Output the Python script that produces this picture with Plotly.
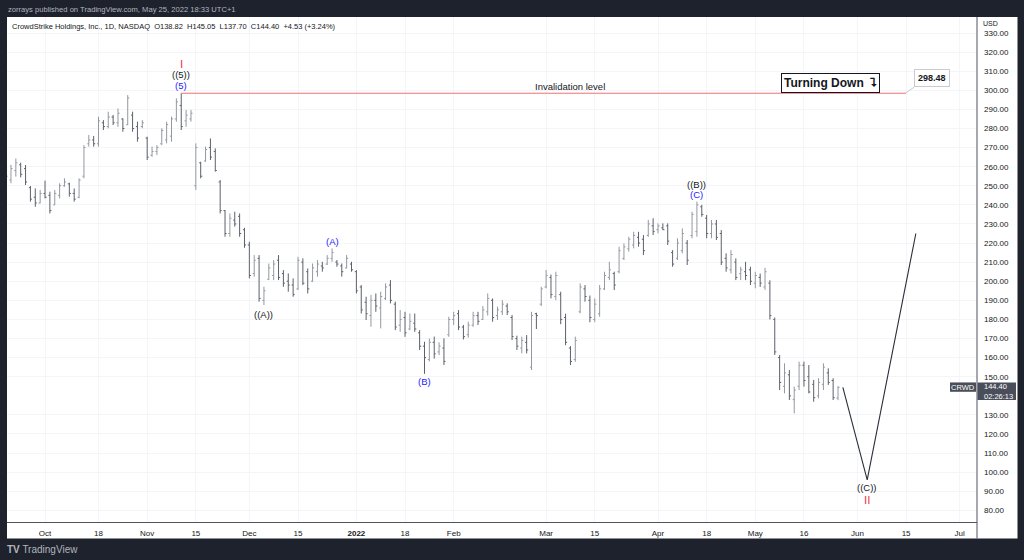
import plotly.graph_objects as go
import pandas as pd

# ---------------- data ----------------
HOLIDAYS = ["2021-11-25", "2021-12-24", "2022-01-17", "2022-02-21", "2022-04-15",
            "2022-05-30", "2022-06-20", "2022-07-04"]
FIRST_BAR = "2021-09-21"
LAST_CAL = "2022-07-29"

opens = [254.5, 253, 258, 261, 259, 249, 244, 241, 246, 245, 240, 245, 250, 251, 246, 244,
         255, 272, 274, 272, 283, 281, 286, 283, 285, 282, 287, 281, 281, 275, 266, 268,
         272, 274, 276, 285, 292, 284, 285, 250, 262, 263, 270, 268, 252, 237, 225, 232,
         234, 227, 219, 204, 212, 190, 201, 203, 211, 204, 200, 198, 196, 210, 205, 200,
         205, 208, 209, 212, 210, 208, 207, 209, 205, 197, 189, 182, 190, 186, 191, 198,
         188, 177, 181, 175, 178, 173, 166, 159, 168, 163, 165, 172, 180, 183, 176, 172,
         177, 182, 180, 184, 190, 182, 184, 187, 181, 170, 165, 168, 155, 183, 188, 197,
         202, 192, 193, 181, 165, 159, 184, 196, 190, 180, 183, 196, 202, 204, 205, 212,
         217, 219, 223, 222, 224, 229, 227, 228, 229, 215, 212, 216, 220, 224, 226, 239,
         233, 225, 230, 225, 212, 206, 210, 204, 205, 206, 199, 202, 197, 199, 180, 160,
         145, 151, 138, 145, 156, 150, 146, 140, 146, 152, 148, 138.82]
highs = [256, 261, 264.3, 262.1, 260.9, 249.9, 248.6, 247.8, 252.7, 246.9, 247.8, 251.3, 253.9,
         251.6, 248.6, 253.9, 271.3, 276.6, 276.1, 286.2, 284.4, 288.8, 287.1, 290.5, 285.3,
         297.5, 288.8, 283.6, 284.4, 275.7, 270.5, 271.3, 280.1, 283.6, 286.2, 295.8, 298.48,
         289.7, 289.7, 272.2, 262.6, 270.5, 274.8, 269.6, 253.0, 237.3, 235.5, 236.4, 235.5,
         228, 220.7, 213.7, 213.7, 197.1, 209.3, 211.1, 213.7, 205.8, 204.1, 201.5, 212.8,
         212, 206.7, 209.3, 211.1, 210.2, 213.7, 217.2, 211.1, 209.3, 213.7, 210.2, 205.8,
         198, 191.9, 192.8, 193.6, 194.5, 198.9, 200.6, 189.3, 184.9, 184, 183.1, 183.1,
         174.4, 168.3, 170, 171, 168, 170.1, 181.4, 184.0, 184.9, 177.1, 178.8, 184, 184.0,
         187, 193.6, 191.0, 186.7, 190.1, 188.4, 182.3, 171.5, 171, 171.8, 184.0, 183.5,
         197.1, 205.9, 203.5, 205, 194.5, 183, 166, 171, 198.9, 198, 192.5, 191, 198, 205,
         210.2, 205, 218.1, 219.8, 223.3, 225.9, 225.9, 224.2, 232.1, 233, 230.3, 230.3,
         230.3, 216.3, 222.5, 227.7, 221.6, 236.4, 241.7, 240, 234.7, 232.1, 232.1, 226.8,
         214.6, 216.3, 212, 207.6, 210.2, 207.6, 205, 204, 207, 200.5, 181, 161.4, 157,
         153.5, 144.8, 157.9, 157.9, 156.1, 148.3, 149.2, 157, 154.4, 149.2, 145.05]
lows = [253, 251.3, 254.8, 254.4, 250.4, 241.7, 239.0, 240.8, 243.4, 235.5, 239.9, 243.4, 249.5,
        244.3, 241.7, 243.4, 253.9, 270.5, 270.5, 270.5, 279.2, 280.1, 281.8, 280.9, 278.3,
        281.8, 278.3, 273.1, 280.1, 263.5, 265.2, 266.1, 271.3, 272.2, 273.1, 283.6, 279.2,
        280.9, 283.6, 247.8, 253.9, 262.6, 263.5, 257.4, 235.5, 223.3, 223.3, 228.6, 223.3,
        217.5, 201.5, 202.4, 189.3, 187.5, 200.6, 200.6, 200.6, 197.1, 194.5, 191.9, 195.4,
        198, 193.6, 199.7, 202.4, 205, 208.5, 210.2, 207.6, 202.4, 206.7, 205, 193.6,
        183.1, 179.7, 176.2, 184, 175.3, 190.1, 188.4, 174.4, 173.5, 170.9, 174.4, 173.5,
        164, 151.5, 158, 159.5, 161.3, 156.1, 170.9, 177.1, 174.4, 169.5, 170.5, 176.2, 177.1,
        179.7, 182, 178.8, 179.7, 182.3, 182.3, 169.2, 164, 162.2, 162.2, 153.5, 175,
        187, 196.3, 191, 190.1, 177.5, 166.5, 156.1, 157.8, 183.2, 189.3, 178.5, 178.5, 181.4,
        195.4, 200.6, 195.4, 204.1, 211.1, 215.5, 217.2, 218.1, 213.7, 223.3, 224.2, 225.1,
        226.8, 219, 207.6, 211.1, 214.6, 208.5, 222.5, 223.3, 233.8, 222.5, 222.5, 221.6,
        208.5, 205, 204.1, 200.6, 200.6, 200.6, 198, 196.3, 197, 195.5, 180, 161.4, 143,
        141.3, 137.8, 130.8, 143, 144.8, 141.3, 136.9, 138.7, 143, 145.7, 137.8, 137.70]
closes = [255, 259, 262, 256, 252, 243, 241, 246, 244, 237, 246, 250, 252, 246, 243, 253,
          270, 274, 272, 284, 281, 286, 283, 288, 280, 296, 280, 275, 283, 265, 268, 270,
          279, 282, 285, 294, 281, 287, 288, 270, 255, 269, 265, 258, 237, 225, 233, 230,
          225, 219, 203, 211, 191, 195, 207, 209, 202, 199, 198, 193, 211, 199, 196, 207,
          209, 207, 212, 215, 209, 205, 212, 206, 195, 185, 183, 190, 187, 192, 197, 190,
          176, 180, 173, 179, 175, 166, 160, 168, 162, 166, 158, 180, 182, 176, 171, 177,
          182, 179, 185, 191, 181, 185, 188, 184, 171, 166, 169, 164, 182, 182, 196, 203,
          193, 203, 180, 168, 158, 169, 197, 192, 181, 188, 196, 203, 206, 198, 216, 218,
          222, 224, 220, 216, 230, 226, 229, 227, 221, 209, 220, 225, 211, 235, 240, 235,
          225, 230, 223, 210, 207, 214, 202, 206, 203, 200, 203, 199, 205, 182, 163, 147,
          152, 140, 143, 156, 148, 142, 139, 147, 155, 147, 139, 144.40]

tick_dates = ["2021-10-01", "2021-10-18", "2021-11-01", "2021-11-15", "2021-12-01",
              "2021-12-15", "2022-01-03", "2022-01-18", "2022-02-01", "2022-03-01",
              "2022-03-15", "2022-04-01", "2022-04-18", "2022-05-02", "2022-05-16",
              "2022-06-01", "2022-06-15", "2022-07-01"]
tick_labels = ["Oct", "18", "Nov", "15", "Dec", "15", "<b>2022</b>", "18", "Feb", "Mar",
               "15", "Apr", "18", "May", "16", "Jun", "15", "Jul"]
# price scale labels (140 is covered by the last-price tag in the reference)
price_ticks = [80, 90, 100, 110, 120, 130, 150, 160, 170, 180, 190, 200, 210, 220, 230,
               240, 250, 260, 270, 280, 290, 300, 310, 320, 330]

wave_text = ["I", "((5))", "(5)", "((A))", "(A)", "(B)", "((B))", "(C)", "((C))", "II"]
wave_date = ["2021-11-10", "2021-11-10", "2021-11-10", "2021-12-06", "2021-12-27",
             "2022-01-24", "2022-04-13", "2022-04-13", "2022-06-03", "2022-06-03"]
wave_price = [313.6, 308.2, 302.3, 182.8, 221.0, 147.7, 250.6, 245.6, 92.0, 85.4]
wave_color = ["#f23645", "#131722", "#2323ff", "#131722", "#2323ff", "#2323ff",
              "#131722", "#2323ff", "#131722", "#f23645"]

proj_dates = ["2022-05-26", "2022-06-03", "2022-06-17"]
proj_price = [144.4, 96.0, 225.0]

invalidation = 298.48
inval_dates = ["2021-11-10", "2022-06-15"]
inval_text_date = "2022-03-08"
turning_date = "2022-05-23"

# ---------------- trading calendar -> bar index ----------------
cal = pd.bdate_range(FIRST_BAR, LAST_CAL, freq="C", holidays=HOLIDAYS)
pos = {d.strftime("%Y-%m-%d"): i for i, d in enumerate(cal)}
n = len(closes)
xs = list(range(n))


def X(d):
    return pos[d]


# pixel helpers for the frame decoration (plot area: x 7..977, y 17..522)
def PX(px):
    return (px - 7) / 970.0


def PY(py):
    return (522 - py) / 505.0


FONT = "Liberation Sans, Arial, sans-serif"
fig = go.Figure()

fig.add_trace(go.Ohlc(
    x=xs, open=opens, high=highs, low=lows, close=closes,
    increasing=dict(line=dict(color="#9598a1", width=1)),
    decreasing=dict(line=dict(color="#5d606b", width=1)),
    tickwidth=0.32, hoverinfo="skip", showlegend=False))

# projected path
fig.add_trace(go.Scatter(
    x=[X(d) for d in proj_dates], y=proj_price, mode="lines",
    line=dict(color="#2a2e39", width=1.1), hoverinfo="skip", showlegend=False))

# invalidation line
fig.add_trace(go.Scatter(
    x=[X(d) for d in inval_dates], y=[invalidation, invalidation], mode="lines",
    line=dict(color="#ef6f72", width=1), hoverinfo="skip", showlegend=False))

ann = []
for t, d, p, c in zip(wave_text, wave_date, wave_price, wave_color):
    size = 11.5 if t in ("I", "II") else 9.5
    ann.append(dict(x=X(d), y=p, text=t, showarrow=False, xref="x", yref="y",
                    xanchor="center", yanchor="middle",
                    font=dict(family=FONT, size=size, color=c)))

ann.append(dict(x=X(inval_text_date), y=invalidation, xanchor="center",
                yanchor="bottom", yshift=-1, text="Invalidation level", showarrow=False,
                font=dict(family=FONT, size=9.5, color="#131722")))

ann.append(dict(x=X(turning_date) + 0.4, y=invalidation + 5.1, text="<b>Turning Down  ⮧</b>",
                xanchor="center", yanchor="middle",
                showarrow=False, font=dict(family=FONT, size=12, color="#131722"),
                bgcolor="#ffffff", bordercolor="#131722", borderwidth=1, borderpad=2))

ann.append(dict(x=X(inval_dates[1]) - 0.2, y=invalidation, ax=9, ay=-6,
                text="<b>298.48</b>", showarrow=True, arrowhead=0, arrowwidth=1,
                arrowcolor="#c9cbd1", font=dict(family=FONT, size=9, color="#131722"),
                bgcolor="#ffffff", bordercolor="#c9cbd1", borderwidth=1, borderpad=3,
                xanchor="left", yanchor="bottom"))

# header / footer texts
ann.append(dict(xref="paper", yref="paper", x=PX(6), y=PY(9.5), xanchor="left", yanchor="middle",
                text="zorrays published on TradingView.com, May 25, 2022 18:33 UTC+1",
                showarrow=False, font=dict(family=FONT, size=7.6, color="#b2b5be")))
ann.append(dict(xref="paper", yref="paper", x=PX(10), y=PY(26.5), xanchor="left", yanchor="middle",
                text="CrowdStrike Holdings, Inc., 1D, NASDAQ  O138.82  H145.05  L137.70  C144.40  +4.53 (+3.24%)",
                showarrow=False, font=dict(family=FONT, size=7.5, color="#131722")))
ann.append(dict(xref="paper", yref="paper", x=PX(5), y=PY(549), xanchor="left", yanchor="middle",
                text="<b>TV</b> TradingView",
                showarrow=False, font=dict(family=FONT, size=10, color="#b2b5be")))
ann.append(dict(xref="paper", yref="paper", x=PX(981), y=PY(23.5), xanchor="left", yanchor="middle",
                text="USD", showarrow=False, font=dict(family=FONT, size=7, color="#131722")))

# last price tags
last = closes[-1]
ann.append(dict(xref="paper", yref="y", x=PX(963), y=last + 0.2, text="CRWD",
                xanchor="center", yanchor="middle",
                showarrow=False, font=dict(family=FONT, size=7.5, color="#ffffff")))
ann.append(dict(xref="paper", yref="y", x=PX(982), y=last - 2.3, xanchor="left", yanchor="middle",
                align="left", text="144.40<br>02:26:13", showarrow=False,
                font=dict(family=FONT, size=7.5, color="#ffffff")))

shapes = [
    dict(type="rect", xref="paper", yref="paper", x0=0, x1=PX(1017.5), y0=PY(538.5), y1=1,
         fillcolor="#ffffff", line=dict(width=0), layer="below"),
    dict(type="line", xref="paper", yref="paper", x0=1, x1=1, y0=PY(538.5), y1=1,
         line=dict(color="#50535e", width=1)),
    dict(type="rect", xref="paper", yref="y", x0=PX(950), x1=PX(976), y0=last - 2.3, y1=last + 2.6,
         fillcolor="#4a4e5a", line=dict(width=0)),
    dict(type="rect", xref="paper", yref="y", x0=PX(977.5), x1=PX(1016), y0=last - 6.6, y1=last + 2.6,
         fillcolor="#4a4e5a", line=dict(width=0)),
]

fig.update_layout(
    width=1024, height=560,
    margin=dict(l=7, r=47, t=17, b=38),
    paper_bgcolor="#1e222d", plot_bgcolor="#ffffff",
    font=dict(family=FONT, size=8, color="#131722"),
    showlegend=False,
    annotations=ann, shapes=shapes,
    xaxis=dict(range=[0.185, 199.57], tickvals=[X(d) for d in tick_dates], ticktext=tick_labels,
               showgrid=True, gridcolor="#f4f5f8", zeroline=False, showline=True,
               linecolor="#50535e", linewidth=1, ticks="", ticklabelstandoff=3,
               tickfont=dict(size=8, color="#131722"), rangeslider=dict(visible=False),
               fixedrange=True),
    yaxis=dict(side="right", range=[73.9, 338.4], tickvals=price_ticks, tickformat=".2f",
               showgrid=True, gridcolor="#f4f5f8", zeroline=False, showline=False,
               ticks="", ticklabelstandoff=6, tickfont=dict(size=8, color="#131722"),
               fixedrange=True),
)

fig.write_html("out.html", config={"staticPlot": True},
               post_script="document.body.style.margin='0';document.body.style.overflow='hidden';")
